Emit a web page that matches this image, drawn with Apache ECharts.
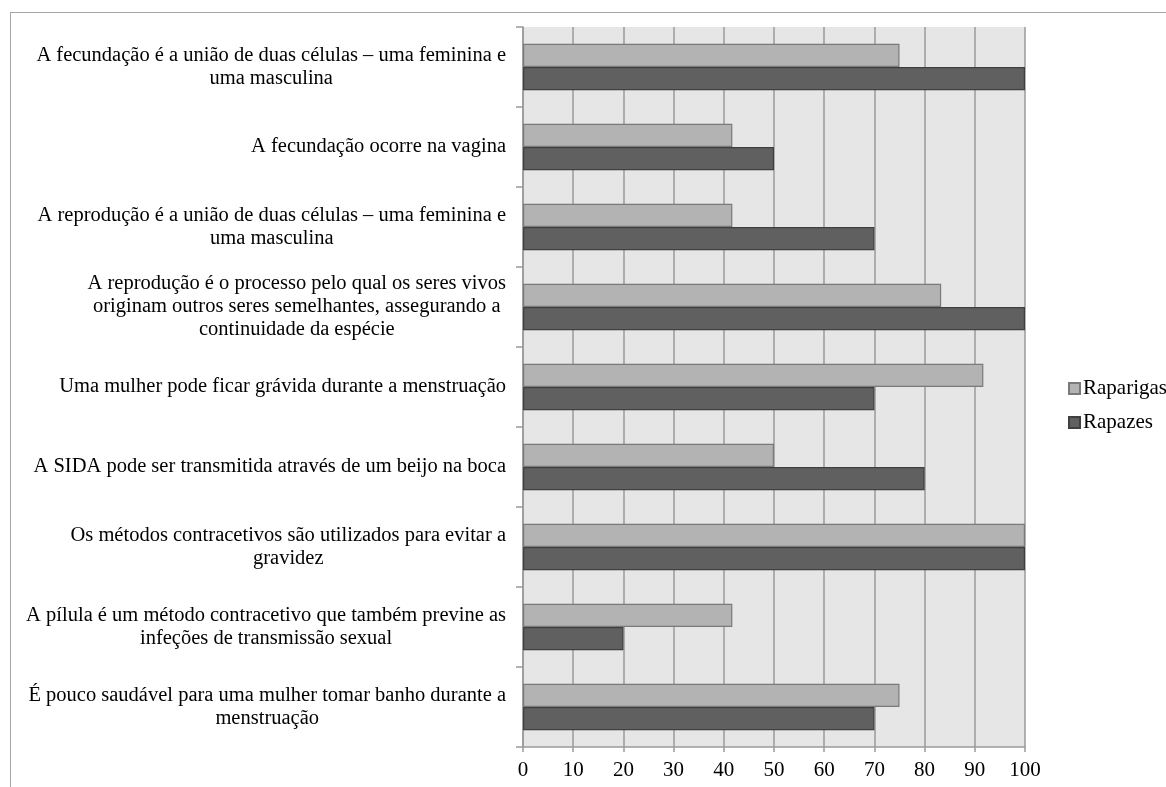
<!DOCTYPE html>
<html>
<head>
<meta charset="utf-8">
<script src="https://cdn.jsdelivr.net/npm/echarts@6/dist/echarts.min.js"></script>
<style>
  html, body { margin: 0; padding: 0; background: #fff; overflow: hidden; }
  #frame { position: absolute; left: 10px; top: 12px; width: 1300px; height: 900px; border: 1.5px solid #a6a6a6; box-sizing: border-box; }
  #chart { position: absolute; left: 0; top: 0; width: 1166px; height: 787px; }
</style>
</head>
<body>
<div id="frame"></div>
<div id="chart"></div>
<script>
const categories = [
  "A fecundação é a união de duas células – uma feminina e\numa masculina",
  "A fecundação ocorre na vagina",
  "A reprodução é a união de duas células – uma feminina e\numa masculina",
  "A reprodução é o processo pelo qual os seres vivos\noriginam outros seres semelhantes, assegurando a\ncontinuidade da espécie",
  "Uma mulher pode ficar grávida durante a menstruação",
  "A SIDA pode ser transmitida através de um beijo na boca",
  "Os métodos contracetivos são utilizados para evitar a\ngravidez",
  "A pílula é um método contracetivo que também previne as\ninfeções de transmissão sexual",
  "É pouco saudável para uma mulher tomar banho durante a\nmenstruação"
];
const raparigas = [75, 41.7, 41.7, 83.3, 91.7, 50, 100, 41.7, 75];
const rapazes = [100, 50, 70, 100, 70, 80, 100, 20, 70];
const seriesNames = ["Raparigas", "Rapazes"];
const xTicks = { min: 0, max: 100, interval: 10 };

const FONT = "'Liberation Serif', 'Times New Roman', serif";
const chart = echarts.init(document.getElementById('chart'), null, { renderer: 'canvas' });
chart.setOption({
  animation: false,
  backgroundColor: 'transparent',
  grid: {
    left: 523, top: 27, right: 141, bottom: 40,
    show: true, backgroundColor: '#e6e6e6', borderWidth: 0,
    containLabel: false
  },
  legend: {
    orient: 'vertical',
    left: 1063, top: 373,
    itemWidth: 11, itemHeight: 11, itemGap: 13,
    icon: 'rect',
    textStyle: { fontFamily: FONT, fontSize: 21, color: '#000', padding: [0, 0, 0, -2] },
    data: seriesNames
  },
  xAxis: {
    type: 'value',
    min: xTicks.min, max: xTicks.max, interval: xTicks.interval,
    axisLine: { show: true, lineStyle: { color: '#9a9a9a', width: 1.5 } },
    axisTick: { show: true, length: 5, lineStyle: { color: '#9a9a9a', width: 1.5 } },
    axisLabel: { margin: 13, fontFamily: FONT, fontSize: 21, color: '#000' },
    splitLine: { show: true, lineStyle: { color: '#9a9a9a', width: 1.5 } }
  },
  yAxis: {
    type: 'category',
    inverse: true,
    data: categories,
    axisLine: { show: true, lineStyle: { color: '#9a9a9a', width: 1.5 } },
    axisTick: { show: true, length: 7, lineStyle: { color: '#9a9a9a', width: 1.5 } },
    axisLabel: {
      margin: 17,
      fontFamily: FONT, fontSize: 20.5, color: '#000', lineHeight: 23,
      formatter: function (v) {
        return v.split('\n').map(function (l) { return '{c|' + l + '}'; }).join('\n');
      },
      rich: { c: { align: 'center', fontFamily: FONT, fontSize: 20.5, lineHeight: 23, color: '#000' } }
    }
  },
  series: [
    {
      name: seriesNames[0], type: 'bar', data: raparigas,
      barGap: '0%', barCategoryGap: '42%',
      itemStyle: { color: '#b3b3b3', borderColor: '#7a7a7a', borderWidth: 1.2 }
    },
    {
      name: seriesNames[1], type: 'bar', data: rapazes,
      barGap: '0%', barCategoryGap: '42%',
      itemStyle: { color: '#606060', borderColor: '#3f3f3f', borderWidth: 1.2 }
    }
  ]
});
</script>
</body>
</html>
